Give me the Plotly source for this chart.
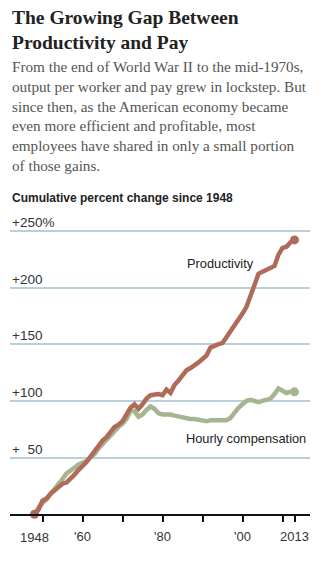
import plotly.graph_objects as go

# Cumulative percent change since 1948
years = list(range(1948, 2014))

productivity = [
    0, 4, 12, 14, 18, 21, 23, 27, 28, 31,
    35, 39, 42, 46, 51, 56, 61, 65, 68, 73,
    77, 79, 82, 88, 94, 97, 93, 97, 102, 105,
    106, 106, 105, 110, 107, 114, 118, 123, 127, 129,
    131, 134, 137, 140, 147, 149, 150, 151, 156, 161,
    166, 171, 177, 183, 193, 204, 212, 214, 216, 217,
    219, 229, 235, 236, 240, 242,
]

compensation = [
    0, 6, 10, 13, 18, 22, 27, 31, 36, 38,
    41, 44, 45, 47, 50, 53, 58, 62, 65, 70,
    74, 77, 80, 84, 91, 91, 86, 88, 92, 95,
    93, 89, 88, 88, 88, 87, 86, 86, 85, 84,
    84, 83, 82, 82, 83, 83, 83, 83, 83, 85,
    90, 94, 97, 100, 101, 100, 99, 100, 101, 102,
    106, 111, 109, 107, 108, 108,
]

grid_values = [50, 100, 150, 200, 250]
grid_labels = ["+  50", "+100", "+150", "+200", "+250%"]

tick_years = [1950, 1960, 1970, 1980, 1990, 2000, 2010, 2013]
tick_text = ["", "'60", "", "'80", "", "'00", "", "2013"]

RED = "#b06a58"
GREEN = "#a5b58f"
GRID = "#b9d0db"

W, H = 325, 561
X_LEFT, X_RIGHT = 10, 310
Y_BOTTOM, Y_TOP = 514.3, 217.2  # pixel rows of y=0 and y=262

fig = go.Figure()

fig.add_trace(go.Scatter(
    x=years, y=compensation, mode="lines",
    line=dict(color=GREEN, width=4.5),
    hoverinfo="skip", showlegend=False,
))
fig.add_trace(go.Scatter(
    x=years, y=productivity, mode="lines",
    line=dict(color=RED, width=4.5),
    hoverinfo="skip", showlegend=False,
))
# end-point dots
fig.add_trace(go.Scatter(
    x=[years[-1]], y=[compensation[-1]], mode="markers",
    marker=dict(color=GREEN, size=9), cliponaxis=False,
    hoverinfo="skip", showlegend=False,
))
fig.add_trace(go.Scatter(
    x=[years[0], years[-1]], y=[productivity[0], productivity[-1]], mode="markers",
    marker=dict(color=RED, size=9), cliponaxis=False,
    hoverinfo="skip", showlegend=False,
))

annotations = []

# headline
annotations.append(dict(
    x=10 / W, y=1 - 5 / H, xref="paper", yref="paper",
    xanchor="left", yanchor="top", align="left", showarrow=False,
    text="<b>The Growing Gap Between<br>Productivity and Pay</b>",
    font=dict(family="Liberation Serif", size=19.5, color="#222222"),
))
# intro text
intro = ("From the end of World War II to the mid-1970s,<br>"
         "output per worker and pay grew in lockstep. But<br>"
         "since then, as the American economy became<br>"
         "even more efficient and profitable, most<br>"
         "employees have shared in only a small portion<br>"
         "of those gains.")
annotations.append(dict(
    x=10 / W, y=1 - 56 / H, xref="paper", yref="paper",
    xanchor="left", yanchor="top", align="left", showarrow=False,
    text=intro,
    font=dict(family="Liberation Serif", size=15.2, color="#555555"),
))
# chart subtitle
annotations.append(dict(
    x=10 / W, y=1 - 198.5 / H, xref="paper", yref="paper",
    xanchor="left", yanchor="middle", align="left", showarrow=False,
    text="<b>Cumulative percent change since 1948</b>",
    font=dict(family="Liberation Sans", size=12, color="#222222"),
))
# gridline labels
for v, lab in zip(grid_values, grid_labels):
    annotations.append(dict(
        x=X_LEFT / W, y=v, xref="paper", yref="y",
        xanchor="left", yanchor="bottom", showarrow=False,
        text=lab, yshift=-1,
        font=dict(family="Liberation Sans", size=13.5, color="#333333"),
    ))
# series labels
annotations.append(dict(
    x=1994.5, y=221, xref="x", yref="y", xanchor="center", yanchor="middle",
    showarrow=False, text="Productivity",
    font=dict(family="Liberation Sans", size=12.8, color="#222222"),
))
annotations.append(dict(
    x=2000.75, y=67, xref="x", yref="y", xanchor="center", yanchor="middle",
    showarrow=False, text="Hourly compensation",
    font=dict(family="Liberation Sans", size=12.8, color="#222222"),
))
# first-year label under the start dot
annotations.append(dict(
    x=1948, y=1 - 537.5 / H, xref="x", yref="paper",
    xanchor="center", yanchor="middle", showarrow=False,
    text="1948",
    font=dict(family="Liberation Sans", size=13, color="#333333"),
))

px_per_year = 4.0
x0 = 1948 - (34.5 - X_LEFT) / px_per_year
x1 = 1948 + (X_RIGHT - 34.5) / px_per_year

fig.update_layout(
    width=W, height=H,
    margin=dict(l=0, r=0, t=0, b=0),
    paper_bgcolor="white", plot_bgcolor="white",
    annotations=annotations,
    xaxis=dict(
        domain=[X_LEFT / W, X_RIGHT / W],
        range=[x0, x1],
        showgrid=False, zeroline=False,
        showline=True, linecolor="#111111", linewidth=2,
        ticks="outside", ticklen=6, tickwidth=1.5, tickcolor="#111111",
        tickvals=tick_years, ticktext=tick_text,
        ticklabelstandoff=3,
        tickfont=dict(family="Liberation Sans", size=13, color="#333333"),
        fixedrange=True,
    ),
    yaxis=dict(
        domain=[(H - Y_BOTTOM) / H, (H - Y_TOP) / H],
        range=[0, 262],
        showgrid=True, gridcolor=GRID, gridwidth=1.5,
        tickvals=grid_values, showticklabels=False,
        zeroline=False, showline=False,
        fixedrange=True,
    ),
)

fig.write_html("out.html")
